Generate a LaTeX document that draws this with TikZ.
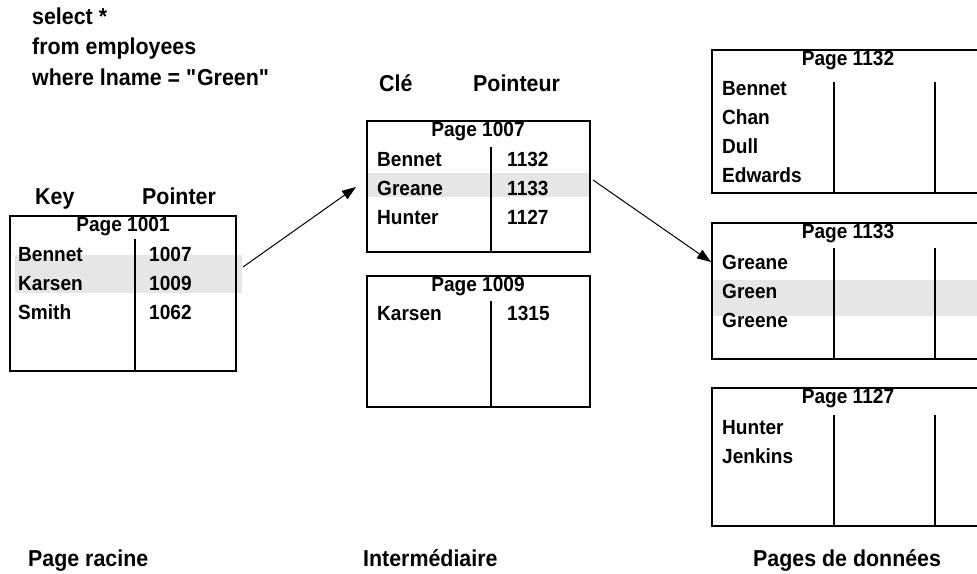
\documentclass[tikz,border=0pt]{standalone}
\usepackage{fontspec}
\setmainfont[FakeStretch=0.93]{Liberation Sans}
\usetikzlibrary{arrows.meta}

\begin{document}
\begin{tikzpicture}[x=1pt, y=-1pt,
    every node/.style={inner sep=0pt, anchor=base west, font=\bfseries\fontsize{20.5}{24}\selectfont},
    head/.style={font=\bfseries\fontsize{23}{27}\selectfont},
    title/.style={anchor=base},
    page/.style={line width=2pt},
    hit/.style={gray, opacity=.2},
    ptr/.style={line width=1pt, -{Triangle[length=14pt,width=10pt]}}]
        \clip (0,0) rectangle (977,573) ;
        \def\rowh{29}

        % requete
        \node [head] (sel) at (32,24) {select *} ;
        \node [head] (frm) at (32,54) {from employees} ;
        \node [head] (whr) at (32,85) {where lname = \textquotedbl Green\textquotedbl} ;

        % page racine
        \fill [hit] (15,255) rectangle (242,293) ;
        \draw [page] (10,216) rectangle (236,371) ;
        \draw [page] (135,239) -- (135,371) ;
        \node [head] (key) at (35,204) {Key} ;
        \node [head] (ptr) at (142,204) {Pointer} ;
        \node [title] (p1001) at (123,231) {Page 1001} ;
        \foreach \k/\p [count=\i] in {Bennet/1007, Karsen/1009, Smith/1062} {
          \node (rk\i) at (18,232+\rowh*\i) {\k} ;
          \node (rp\i) at (149,232+\rowh*\i) {\p} ;
        }

        % intermediaire
        \fill [hit] (367,173) rectangle (590,197) ;
        \draw [page] (367,121) rectangle (590,252) ;
        \draw [page] (491,147) -- (491,252) ;
        \node [head] (cle) at (379,91) {Clé} ;
        \node [head] (pointeur) at (473,91) {Pointeur} ;
        \node [title] (p1007) at (478,136) {Page 1007} ;
        \foreach \k/\p [count=\i] in {Bennet/1132, Greane/1133, Hunter/1127} {
          \node (ik\i) at (377,137+\rowh*\i) {\k} ;
          \node (ip\i) at (507,137+\rowh*\i) {\p} ;
        }

        \draw [page] (367,276) rectangle (590,407) ;
        \draw [page] (491,301) -- (491,407) ;
        \node [title] (p1009) at (478,291) {Page 1009} ;
        \node (jk1) at (377,320) {Karsen} ;
        \node (jp1) at (507,320) {1315} ;

        % pages de donnees
        \fill [hit] (712,280) rectangle (984,316) ;
        \draw [page] (712,50) rectangle (984,193) ;
        \draw [page] (834,82) -- (834,193) (935,82) -- (935,193) ;
        \node [title] (p1132) at (848,65) {Page 1132} ;
        \foreach \k [count=\i] in {Bennet, Chan, Dull, Edwards}
          \node (ak\i) at (722,66+\rowh*\i) {\k} ;

        \draw [page] (712,223) rectangle (984,359) ;
        \draw [page] (834,248) -- (834,359) (935,248) -- (935,359) ;
        \node [title] (p1133) at (848,238) {Page 1133} ;
        \foreach \k [count=\i] in {Greane, Green, Greene}
          \node (bk\i) at (722,240+\rowh*\i) {\k} ;

        \draw [page] (712,388) rectangle (984,526) ;
        \draw [page] (834,415) -- (834,526) (935,415) -- (935,526) ;
        \node [title] (p1127) at (848,403) {Page 1127} ;
        \foreach \k [count=\i] in {Hunter, Jenkins}
          \node (ck\i) at (722,405+\rowh*\i) {\k} ;

        % pointeurs
        \coordinate (from1) at (243,267) ;
        \coordinate (to1) at (356,187) ;
        \coordinate (from2) at (593,180) ;
        \coordinate (to2) at (711,262) ;
        \draw [ptr] (from1) -- (to1) ;
        \draw [ptr] (from2) -- (to2) ;

        \node [head] (racine) at (28,566) {Page racine} ;
        \node [head] (inter) at (363,566) {Intermédiaire} ;
        \node [head] (donnees) at (753,566) {Pages de données} ;
      \end{tikzpicture}
\end{document}
